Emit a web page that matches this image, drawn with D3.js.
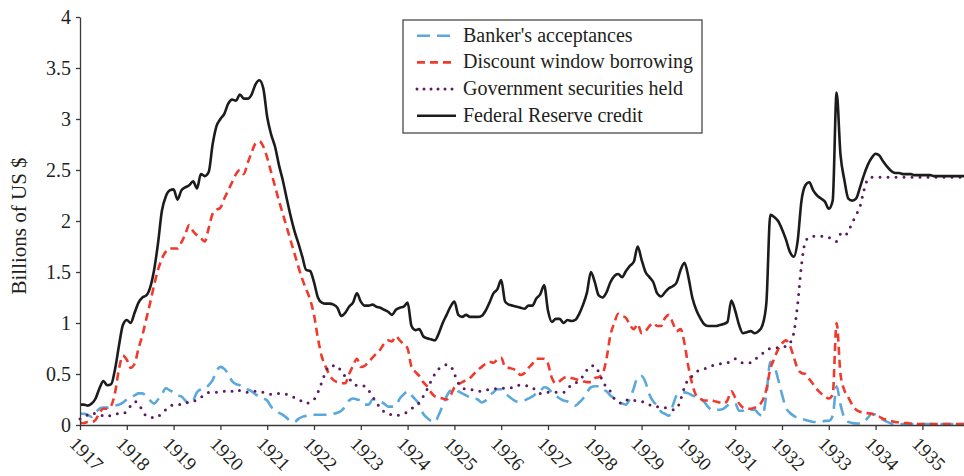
<!DOCTYPE html>
<html>
<head>
<meta charset="utf-8">
<script src="https://cdn.jsdelivr.net/npm/d3@7"></script>
<style>
  body { margin: 0; background: #fff; }
</style>
</head>
<body>
<div id="chart"></div>
<script>
// monthly values, Jan 1917 .. Dec 1935, billions of US $
var START_YEAR = 1917;
var years = d3.range(1917, 1936);
var yTicks = [0, 0.5, 1, 1.5, 2, 2.5, 3, 3.5, 4];
var SERIF = '"Liberation Serif", "DejaVu Serif", "Noto Serif", "Tinos", "FreeSerif", "Nimbus Roman", "Times New Roman", serif';

var bankersAcceptances = [
    0.11, 0.11, 0.10, 0.08, 0.12, 0.16, 0.17, 0.17, 0.18, 0.19, 0.20, 0.22, // 1917
    0.25, 0.27, 0.29, 0.31, 0.31, 0.28, 0.24, 0.21, 0.25, 0.30, 0.36, 0.34, // 1918
    0.32, 0.29, 0.28, 0.24, 0.21, 0.24, 0.32, 0.35, 0.36, 0.39, 0.44, 0.53, // 1919
    0.57, 0.55, 0.50, 0.43, 0.40, 0.39, 0.37, 0.35, 0.33, 0.30, 0.28, 0.26, // 1920
    0.24, 0.18, 0.15, 0.12, 0.10, 0.07, 0.04, 0.03, 0.06, 0.08, 0.09, 0.10, // 1921
    0.10, 0.10, 0.10, 0.10, 0.10, 0.11, 0.12, 0.14, 0.18, 0.24, 0.26, 0.25, // 1922
    0.24, 0.20, 0.20, 0.25, 0.25, 0.23, 0.21, 0.18, 0.18, 0.19, 0.26, 0.30, // 1923
    0.33, 0.29, 0.25, 0.20, 0.11, 0.07, 0.04, 0.03, 0.10, 0.19, 0.28, 0.34, // 1924
    0.35, 0.33, 0.31, 0.29, 0.27, 0.26, 0.25, 0.22, 0.24, 0.29, 0.32, 0.35, // 1925
    0.35, 0.31, 0.28, 0.25, 0.23, 0.23, 0.24, 0.26, 0.28, 0.31, 0.33, 0.37, // 1926
    0.36, 0.32, 0.29, 0.26, 0.24, 0.23, 0.21, 0.19, 0.22, 0.26, 0.32, 0.37, // 1927
    0.38, 0.38, 0.35, 0.33, 0.29, 0.26, 0.23, 0.21, 0.20, 0.26, 0.36, 0.47, // 1928
    0.48, 0.42, 0.30, 0.23, 0.19, 0.13, 0.11, 0.09, 0.19, 0.29, 0.31, 0.32, // 1929
    0.31, 0.29, 0.28, 0.26, 0.23, 0.18, 0.15, 0.15, 0.15, 0.16, 0.19, 0.21, // 1930
    0.21, 0.14, 0.14, 0.16, 0.15, 0.15, 0.11, 0.09, 0.30, 0.62, 0.58, 0.45, // 1931
    0.30, 0.17, 0.12, 0.09, 0.07, 0.06, 0.05, 0.04, 0.03, 0.03, 0.03, 0.04, // 1932
    0.04, 0.09, 0.38, 0.20, 0.07, 0.03, 0.02, 0.015, 0.015, 0.03, 0.07, 0.11, // 1933
    0.10, 0.07, 0.05, 0.03, 0.015, 0.01, 0.01, 0.01, 0.01, 0.01, 0.01, 0.01, // 1934
    0.01, 0.01, 0.01, 0.01, 0.01, 0.01, 0.01, 0.01, 0.01, 0.01, 0.01, 0.01  // 1935
];

var discountWindow = [
    0.02, 0.02, 0.03, 0.03, 0.05, 0.12, 0.16, 0.16, 0.19, 0.32, 0.55, 0.68, // 1917
    0.64, 0.56, 0.60, 0.75, 0.88, 1.04, 1.20, 1.37, 1.52, 1.63, 1.70, 1.73, // 1918
    1.73, 1.73, 1.79, 1.87, 1.96, 1.90, 1.86, 1.83, 1.80, 1.93, 2.07, 2.11, // 1919
    2.13, 2.22, 2.30, 2.38, 2.46, 2.50, 2.46, 2.57, 2.67, 2.76, 2.78, 2.73, // 1920
    2.62, 2.48, 2.34, 2.20, 2.07, 1.94, 1.81, 1.68, 1.55, 1.43, 1.33, 1.23, // 1921
    1.08, 0.85, 0.67, 0.57, 0.49, 0.44, 0.42, 0.41, 0.41, 0.50, 0.58, 0.65, // 1922
    0.57, 0.58, 0.62, 0.66, 0.70, 0.74, 0.80, 0.83, 0.82, 0.87, 0.83, 0.79, // 1923
    0.75, 0.57, 0.52, 0.48, 0.42, 0.38, 0.32, 0.28, 0.27, 0.26, 0.25, 0.29, // 1924
    0.37, 0.40, 0.42, 0.44, 0.46, 0.50, 0.54, 0.57, 0.60, 0.62, 0.61, 0.64, // 1925
    0.66, 0.57, 0.56, 0.55, 0.53, 0.49, 0.51, 0.56, 0.60, 0.65, 0.65, 0.65, // 1926
    0.60, 0.46, 0.41, 0.43, 0.46, 0.47, 0.46, 0.45, 0.44, 0.43, 0.42, 0.42, // 1927
    0.46, 0.47, 0.50, 0.65, 0.88, 1.00, 1.09, 1.07, 1.05, 0.98, 0.94, 0.99, // 1928
    0.90, 0.92, 0.97, 1.00, 0.97, 0.97, 1.05, 1.08, 1.00, 0.92, 0.94, 0.80, // 1929
    0.57, 0.40, 0.29, 0.26, 0.24, 0.24, 0.24, 0.23, 0.22, 0.21, 0.24, 0.33, // 1930
    0.27, 0.21, 0.17, 0.16, 0.16, 0.17, 0.19, 0.24, 0.35, 0.55, 0.65, 0.74, // 1931
    0.80, 0.83, 0.78, 0.67, 0.55, 0.51, 0.50, 0.45, 0.40, 0.35, 0.31, 0.28, // 1932
    0.26, 0.30, 1.00, 0.50, 0.34, 0.27, 0.20, 0.15, 0.13, 0.12, 0.115, 0.11, // 1933
    0.09, 0.08, 0.06, 0.05, 0.04, 0.03, 0.025, 0.02, 0.02, 0.015, 0.015, 0.01, // 1934
    0.01, 0.01, 0.01, 0.01, 0.01, 0.01, 0.01, 0.01, 0.01, 0.01, 0.01, 0.01  // 1935
];

var govSecurities = [
    0.06, 0.08, 0.10, 0.12, 0.11, 0.10, 0.09, 0.08, 0.10, 0.11, 0.11, 0.11, // 1917
    0.14, 0.19, 0.23, 0.21, 0.14, 0.09, 0.08, 0.07, 0.08, 0.12, 0.15, 0.18, // 1918
    0.20, 0.20, 0.20, 0.21, 0.23, 0.23, 0.25, 0.27, 0.30, 0.32, 0.32, 0.32, // 1919
    0.32, 0.33, 0.34, 0.33, 0.32, 0.34, 0.33, 0.32, 0.33, 0.33, 0.33, 0.32, // 1920
    0.31, 0.30, 0.30, 0.31, 0.31, 0.30, 0.28, 0.27, 0.25, 0.23, 0.21, 0.23, // 1921
    0.25, 0.32, 0.42, 0.52, 0.58, 0.58, 0.58, 0.52, 0.48, 0.46, 0.40, 0.39, // 1922
    0.39, 0.38, 0.34, 0.28, 0.22, 0.17, 0.13, 0.11, 0.10, 0.09, 0.10, 0.11, // 1923
    0.13, 0.16, 0.19, 0.22, 0.28, 0.35, 0.43, 0.50, 0.55, 0.58, 0.59, 0.58, // 1924
    0.50, 0.41, 0.37, 0.35, 0.35, 0.34, 0.33, 0.33, 0.34, 0.35, 0.35, 0.36, // 1925
    0.36, 0.36, 0.36, 0.37, 0.39, 0.39, 0.39, 0.38, 0.37, 0.33, 0.31, 0.32, // 1926
    0.32, 0.32, 0.32, 0.32, 0.32, 0.36, 0.39, 0.41, 0.44, 0.48, 0.54, 0.58, // 1927
    0.58, 0.52, 0.43, 0.37, 0.33, 0.26, 0.23, 0.21, 0.24, 0.25, 0.24, 0.24, // 1928
    0.23, 0.22, 0.20, 0.18, 0.18, 0.17, 0.17, 0.16, 0.15, 0.16, 0.25, 0.37, // 1929
    0.45, 0.48, 0.52, 0.54, 0.55, 0.56, 0.58, 0.59, 0.60, 0.60, 0.61, 0.63, // 1930
    0.65, 0.62, 0.61, 0.61, 0.61, 0.64, 0.67, 0.70, 0.73, 0.75, 0.75, 0.76, // 1931
    0.77, 0.77, 0.80, 0.90, 1.18, 1.57, 1.80, 1.84, 1.85, 1.85, 1.85, 1.85, // 1932
    1.84, 1.81, 1.80, 1.87, 1.85, 1.90, 1.98, 2.06, 2.14, 2.30, 2.41, 2.43, // 1933
    2.43, 2.43, 2.43, 2.43, 2.43, 2.43, 2.43, 2.43, 2.43, 2.43, 2.43, 2.43, // 1934
    2.43, 2.43, 2.43, 2.43, 2.43, 2.43, 2.43, 2.43, 2.43, 2.43, 2.43, 2.43  // 1935
];

var fedCredit = [
    0.20, 0.20, 0.19, 0.21, 0.26, 0.36, 0.43, 0.39, 0.40, 0.55, 0.78, 0.98, // 1917
    1.03, 1.00, 1.10, 1.20, 1.25, 1.27, 1.35, 1.52, 1.78, 2.10, 2.24, 2.30, // 1918
    2.31, 2.21, 2.30, 2.33, 2.35, 2.39, 2.32, 2.46, 2.44, 2.48, 2.75, 2.93, // 1919
    3.00, 3.05, 3.15, 3.19, 3.18, 3.24, 3.20, 3.20, 3.24, 3.34, 3.38, 3.30, // 1920
    3.02, 2.85, 2.73, 2.55, 2.40, 2.22, 2.05, 1.90, 1.78, 1.65, 1.52, 1.51, // 1921
    1.40, 1.25, 1.20, 1.19, 1.19, 1.18, 1.15, 1.07, 1.10, 1.16, 1.20, 1.29, // 1922
    1.21, 1.17, 1.17, 1.18, 1.16, 1.15, 1.13, 1.11, 1.08, 1.13, 1.15, 1.16, // 1923
    1.20, 0.97, 0.93, 0.94, 0.87, 0.85, 0.84, 0.83, 0.90, 1.00, 1.08, 1.16, // 1924
    1.21, 1.08, 1.06, 1.08, 1.06, 1.06, 1.06, 1.07, 1.12, 1.20, 1.29, 1.33, // 1925
    1.42, 1.21, 1.18, 1.17, 1.16, 1.15, 1.14, 1.17, 1.17, 1.24, 1.28, 1.37, // 1926
    1.12, 1.01, 1.04, 1.04, 1.00, 1.03, 1.02, 1.03, 1.09, 1.18, 1.30, 1.50, // 1927
    1.40, 1.27, 1.25, 1.30, 1.40, 1.46, 1.48, 1.45, 1.51, 1.56, 1.60, 1.75, // 1928
    1.62, 1.50, 1.45, 1.40, 1.29, 1.26, 1.30, 1.34, 1.36, 1.40, 1.52, 1.59, // 1929
    1.45, 1.25, 1.13, 1.05, 0.99, 0.97, 0.97, 0.97, 0.98, 0.99, 1.01, 1.22, // 1930
    1.12, 0.98, 0.90, 0.91, 0.92, 0.90, 0.92, 0.98, 1.20, 2.06, 2.04, 2.00, // 1931
    1.92, 1.82, 1.70, 1.65, 1.80, 2.20, 2.35, 2.38, 2.30, 2.25, 2.22, 2.19, // 1932
    2.12, 2.20, 3.26, 2.65, 2.40, 2.22, 2.20, 2.22, 2.33, 2.45, 2.55, 2.62, // 1933
    2.66, 2.64, 2.58, 2.53, 2.49, 2.47, 2.47, 2.46, 2.46, 2.46, 2.45, 2.45, // 1934
    2.45, 2.45, 2.45, 2.44, 2.44, 2.44, 2.44, 2.44, 2.44, 2.44, 2.44, 2.44  // 1935
];

var series = [
    {name: "Banker's acceptances", values: bankersAcceptances, color: "#5ba8dd", width: 2.6, dash: "13,7", cap: "butt"},
    {name: "Discount window borrowing", values: discountWindow, color: "#ef3a2d", width: 2.6, dash: "8,5", cap: "butt"},
    {name: "Government securities held", values: govSecurities, color: "#5e1a5f", width: 3, dash: "0,8", cap: "round"},
    {name: "Federal Reserve credit", values: fedCredit, color: "#1c1c1c", width: 2.6, dash: null, cap: "butt"}
];

var width = 964, height = 476;
var svg = d3.select("#chart").append("svg")
    .attr("width", width)
    .attr("height", height)
    .attr("font-family", SERIF);

var x = d3.scaleLinear().domain([1917, 1936]).range([80, 80 + 19 * 46.8]);
var y = d3.scaleLinear().domain([0, 4]).range([425, 17]);

var line = d3.line()
    .x((d, i) => x(START_YEAR + i / 12))
    .y(d => y(d))
    .curve(d3.curveMonotoneX);

series.forEach(s => {
    svg.append("path")
        .datum(s.values)
        .attr("fill", "none")
        .attr("stroke", s.color)
        .attr("stroke-width", s.width)
        .attr("stroke-linecap", s.cap)
        .attr("stroke-linejoin", "round")
        .attr("stroke-dasharray", s.dash)
        .attr("d", line);
});

// axes
var xAxis = svg.append("g")
    .attr("transform", "translate(0," + y(0) + ")")
    .call(d3.axisBottom(x).tickValues(years).tickFormat(d3.format("d")).tickSize(5).tickSizeOuter(0));
xAxis.selectAll("text")
    .attr("x", 0).attr("y", 0).attr("dy", 0)
    .attr("text-anchor", "start")
    .attr("transform", "translate(-12,20) rotate(45)")
    .style("font-size", "19px");

var yAxis = svg.append("g")
    .attr("transform", "translate(" + x(1917) + ",0)")
    .call(d3.axisLeft(y).tickValues(yTicks).tickFormat(d3.format("~g")).tickSize(4).tickPadding(5).tickSizeOuter(0));
yAxis.selectAll("text").style("font-size", "20px");

svg.selectAll(".domain, .tick line")
    .attr("stroke", "#3a3a3a")
    .attr("stroke-width", 1.3);

svg.append("text")
    .attr("transform", "translate(26," + 226 + ") rotate(-90)")
    .attr("text-anchor", "middle")
    .style("font-size", "21px")
    .text("Billions of US $");

// legend
var legend = svg.append("g").attr("transform", "translate(403,20)");
legend.append("rect")
    .attr("width", 299)
    .attr("height", 113)
    .attr("fill", "#fff")
    .attr("stroke", "#4a4a4a")
    .attr("stroke-width", 1.3);
series.forEach((s, i) => {
    var cy = 15.7 + i * 26.7;
    legend.append("line")
        .attr("x1", 14).attr("x2", 53)
        .attr("y1", cy).attr("y2", cy)
        .attr("stroke", s.color)
        .attr("stroke-width", s.width)
        .attr("stroke-linecap", s.cap)
        .attr("stroke-dasharray", s.dash ? (s.cap == "round" ? "0,7" : s.dash) : null);
    legend.append("text")
        .attr("x", 60)
        .attr("y", cy + 6)
        .style("font-size", "20px")
        .text(s.name);
});

svg.selectAll("text")
    .style("font-family", SERIF)
    .attr("fill", "#231f20");
</script>
</body>
</html>
